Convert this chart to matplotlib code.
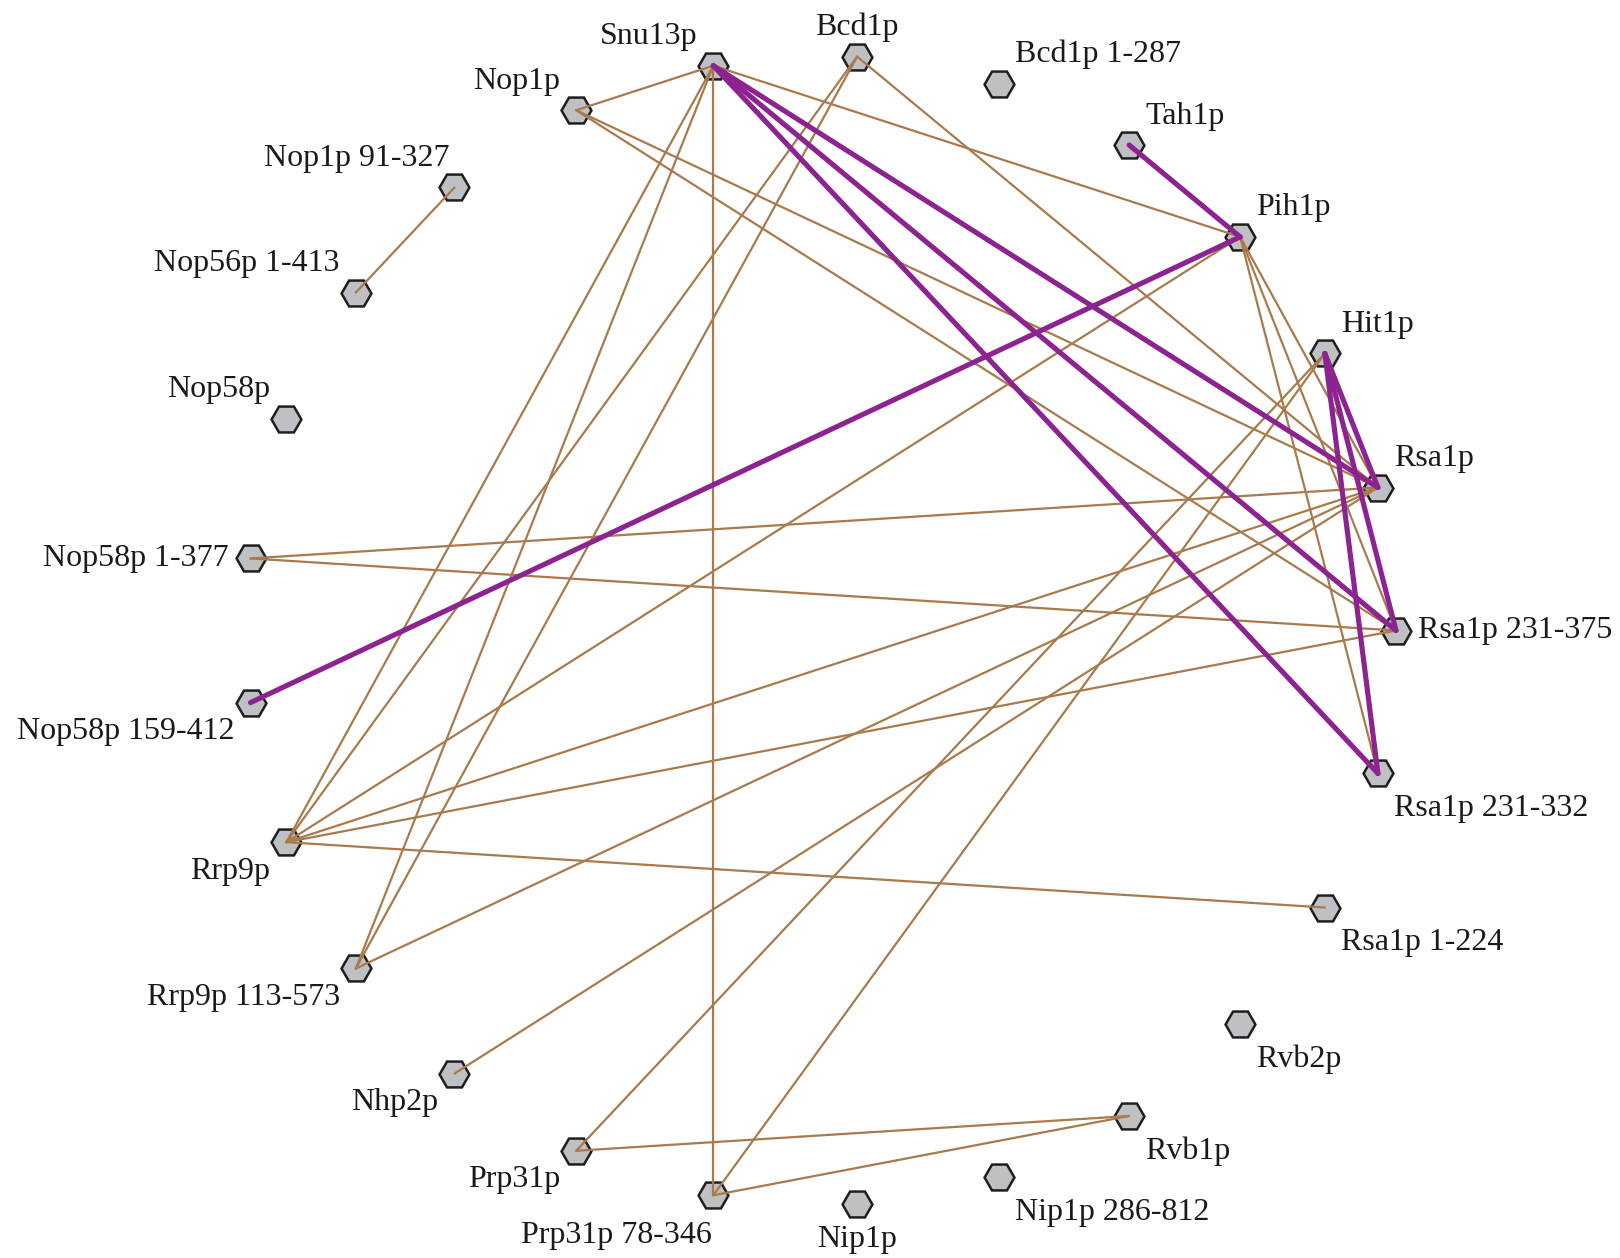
import numpy as np
import matplotlib
matplotlib.use("Agg")
import matplotlib.pyplot as plt

# noeuds, dans l'ordre du cercle (sens anti-horaire depuis la droite)
nodes = ["Rsa1p 231-375", "Rsa1p", "Hit1p", "Pih1p", "Tah1p", "Bcd1p 1-287",
         "Bcd1p", "Snu13p", "Nop1p", "Nop1p 91-327", "Nop56p 1-413", "Nop58p",
         "Nop58p 1-377", "Nop58p 159-412", "Rrp9p", "Rrp9p 113-573", "Nhp2p",
         "Prp31p", "Prp31p 78-346", "Nip1p", "Nip1p 286-812", "Rvb1p", "Rvb2p",
         "Rsa1p 1-224", "Rsa1p 231-332"]

# interactions simples (brun)
brown_edges = [
    ("Nop1p 91-327", "Nop56p 1-413"),
    ("Nop1p", "Snu13p"),
    ("Nop1p", "Rsa1p"),
    ("Nop1p", "Rsa1p 231-375"),
    ("Snu13p", "Pih1p"),
    ("Snu13p", "Rrp9p"),
    ("Snu13p", "Rrp9p 113-573"),
    ("Snu13p", "Prp31p 78-346"),
    ("Bcd1p", "Rrp9p"),
    ("Bcd1p", "Rrp9p 113-573"),
    ("Bcd1p", "Rsa1p"),
    ("Pih1p", "Rrp9p"),
    ("Pih1p", "Rsa1p"),
    ("Pih1p", "Rsa1p 231-375"),
    ("Pih1p", "Rsa1p 231-332"),
    ("Hit1p", "Prp31p"),
    ("Hit1p", "Prp31p 78-346"),
    ("Rsa1p", "Nop58p 1-377"),
    ("Rsa1p", "Rrp9p"),
    ("Rsa1p", "Rrp9p 113-573"),
    ("Rsa1p", "Nhp2p"),
    ("Rsa1p 231-375", "Nop58p 1-377"),
    ("Rsa1p 231-375", "Rrp9p"),
    ("Rrp9p", "Rsa1p 1-224"),
    ("Rvb1p", "Prp31p"),
    ("Rvb1p", "Prp31p 78-346"),
]

# interactions fortes (violet)
purple_edges = [
    ("Tah1p", "Pih1p"),
    ("Pih1p", "Nop58p 159-412"),
    ("Snu13p", "Rsa1p"),
    ("Snu13p", "Rsa1p 231-375"),
    ("Snu13p", "Rsa1p 231-332"),
    ("Hit1p", "Rsa1p"),
    ("Hit1p", "Rsa1p 231-375"),
    ("Hit1p", "Rsa1p 231-332"),
]

# position des etiquettes autour du noeud
label_pos = {"Rsa1p 231-375": "r", "Nop58p 1-377": "l", "Bcd1p": "t", "Nip1p": "b"}
label_shift = {"Prp31p 78-346": (15, 11), "Nop1p 91-327": (11, 0),
               "Rsa1p 231-375": (6, 0), "Nop58p 1-377": (-6, 0), "Nip1p": (0, 6)}

# disposition circulaire
cx, cy, r = 821, 630.5, 575
angles = np.radians(np.arange(len(nodes)) * 360.0 / len(nodes))
pos = {n: (cx + r * np.cos(a), cy - r * np.sin(a)) for n, a in zip(nodes, angles)}

fig = plt.figure(figsize=(16.2, 12.58), dpi=100)
ax = fig.add_axes([0, 0, 1, 1])
ax.set_xlim(0, 1620)
ax.set_ylim(1258, 0)
ax.axis("off")

for a, b in brown_edges:
    ax.plot([pos[a][0], pos[b][0]], [pos[a][1], pos[b][1]], color="#A97A4B",
            lw=1.6, zorder=2, solid_capstyle="round")
for a, b in purple_edges:
    ax.plot([pos[a][0], pos[b][0]], [pos[a][1], pos[b][1]], color="#8C2391",
            lw=3.7, zorder=3, solid_capstyle="round")

xs = [pos[n][0] for n in nodes]
ys = [pos[n][1] for n in nodes]
ax.plot(xs, ys, "H", ms=21.5, mfc="#BFC0C4", mec="#1E1E1E", mew=1.8, ls="none", zorder=1)

for n, a in zip(nodes, angles):
    x, y = pos[n]
    c, s = np.cos(a), np.sin(a)
    code = label_pos.get(n)
    if code is None:
        code = ("t" if s > 0 else "b") + ("r" if c > 0 else "l")
    dx, dy, ha, va = 0, 0, "center", "center"
    if "r" in code:
        dx, ha = 16, "left"
    if "l" in code:
        dx, ha = -16, "right"
    if "t" in code:
        dy = -29
    if "b" in code:
        dy = 35 if "r" in code else 29
    sx, sy = label_shift.get(n, (0, 0))
    ax.text(x + dx + sx, y + dy + sy, n, ha=ha, va=va, fontsize=23,
            family="Liberation Serif", color="#1A1A1A")

fig.savefig("out.png", dpi=100)
